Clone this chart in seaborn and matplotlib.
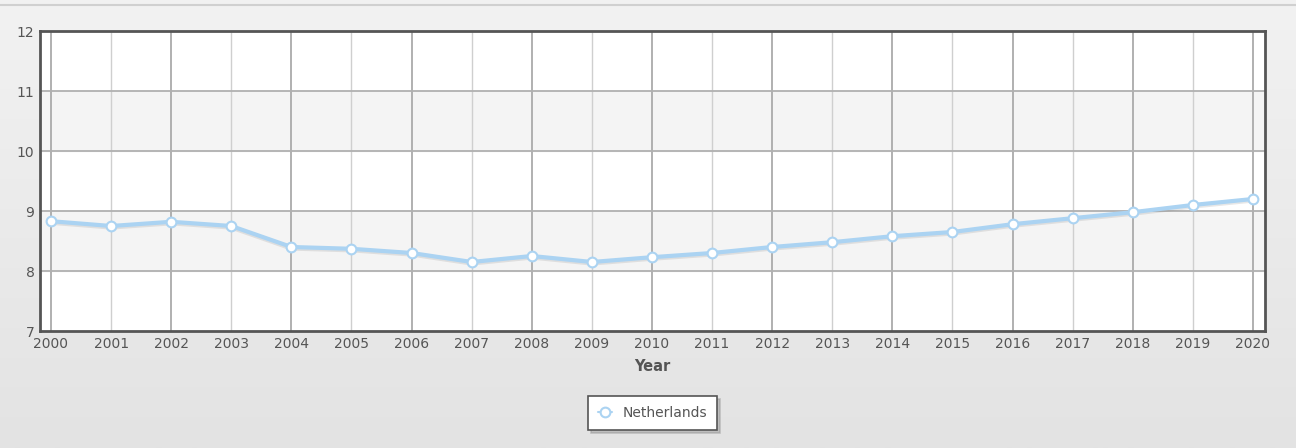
import matplotlib.pyplot as plt
from matplotlib.colors import LinearSegmentedColormap
from matplotlib.ticker import MultipleLocator
import pandas as pd
import seaborn as sns
import numpy as np

years = list(range(2000, 2021))
netherlands = [8.83, 8.75, 8.82, 8.75, 8.40, 8.37, 8.30, 8.15, 8.25, 8.15,
               8.23, 8.30, 8.40, 8.48, 8.58, 8.65, 8.78, 8.88, 8.98, 9.10, 9.20]
series_name = "Netherlands"

df = pd.DataFrame({"Year": years, "value": netherlands, "country": series_name})

sns.set_style("white")
plt.rcParams['font.family'] = ['DejaVu Sans']

fig = plt.figure(figsize=(12.96, 4.48), dpi=100)

# background gradient
bg = fig.add_axes([0, 0, 1, 1], zorder=-10)
grad = np.linspace(0, 1, 256).reshape(-1, 1)
bg.imshow(grad, aspect='auto', cmap=LinearSegmentedColormap.from_list(
    "bg", ["#f2f2f2", "#e3e3e3"]), extent=[0, 1, 0, 1], origin='upper')
bg.plot([0, 1], [1 - 5/448, 1 - 5/448], color="#d0d0d0", lw=1.5)
bg.set_xlim(0, 1)
bg.set_ylim(0, 1)
bg.axis('off')

ax = fig.add_axes([40/1296, 1 - 331/448, 1225/1296, 300/448])
ax.set_facecolor("white")

# alternating bands
for lo in [8, 10]:
    ax.axhspan(lo, lo + 1, color="#f4f4f4", zorder=0)

# vertical grid lines (even years darker)
for yr in years:
    ax.axvline(yr, color="#aaaaaa" if yr % 2 == 0 else "#cfcfcf",
               lw=1.3 if yr % 2 == 0 else 1, zorder=1)
for v in range(8, 12):
    ax.axhline(v, color="#b0b0b0", lw=1.3, zorder=1)

# soft shadow under the line
ax.plot(df["Year"], df["value"] - 0.02, color="#888888", alpha=0.2, lw=3.5, zorder=2)

sns.lineplot(data=df, x="Year", y="value", ax=ax, color="#abd3f2", lw=3,
             marker="o", markersize=7, markerfacecolor="white",
             markeredgecolor="#abd3f2", markeredgewidth=1.5, zorder=3,
             label=series_name, legend=False)

ax.set_xlim(1999.817, 2020.2)
ax.set_ylim(7, 12)
ax.set_xticks(years)
ax.yaxis.set_major_locator(MultipleLocator(1))
ax.tick_params(axis='both', length=0, labelsize=10, colors="#555555", pad=4)
ax.set_ylabel("")
ax.set_xlabel("Year", fontsize=10.5, fontweight="bold", color="#555555", labelpad=6)
for s in ax.spines.values():
    s.set_color("#555555")
    s.set_linewidth(2)

leg = ax.legend(loc="upper center", bbox_to_anchor=(0.5, -0.195), frameon=True,
                fancybox=False, shadow={'color': '#999999', 'alpha': 0.5},
                fontsize=10, handlelength=1.0, borderpad=0.7, labelcolor="#555555")
leg.get_frame().set_edgecolor("#555555")
leg.get_frame().set_linewidth(1.2)
for h in leg.get_lines():
    h.set_linewidth(1.5)

fig.savefig("out.png", dpi=100)
